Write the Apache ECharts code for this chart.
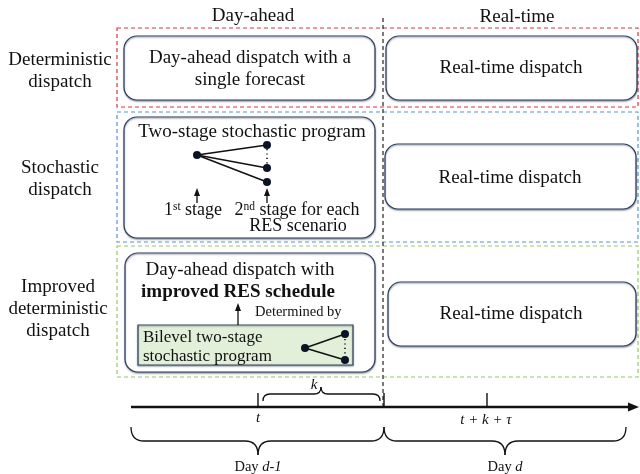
<!DOCTYPE html>
<html>
<head>
<meta charset="utf-8">
<script src="https://cdn.jsdelivr.net/npm/echarts@6/dist/echarts.min.js"></script>
<style>html,body{margin:0;padding:0;background:#fff}#c{width:640px;height:474px}</style>
</head>
<body>
<div id="c"></div>
<script>
// ---- content (texts of the diagram) ----
const phaseLabels = ['Day-ahead', 'Real-time'];
const rowLabels = [['Deterministic', 'dispatch'], ['Stochastic', 'dispatch'], ['Improved', 'deterministic', 'dispatch']];
const dayAheadTexts1 = ['Day-ahead dispatch with a', 'single forecast'];
const dayAheadTexts2 = ['Two-stage stochastic program'];
const stageLabels = ['1{sup|st} stage', '2{sup|nd} stage for each', 'RES scenario'];
const dayAheadTexts3 = ['Day-ahead dispatch with', 'improved RES schedule', 'Determined by'];
const bilevelTexts = ['Bilevel two-stage', 'stochastic program'];
const realTimeText = 'Real-time dispatch';
const timeTicks = ['t', 'k', 't + k + τ'];
const dayLabels = ['d-1', 'd'];

const FONT = 'Liberation Serif';
const NAVY = '#2c3b5c';
const els = [];

function txt(x, y, text, size, opts) {
  opts = opts || {};
  els.push({
    type: 'text', x: x, y: y, z: 10,
    style: Object.assign({
      text: text, fontFamily: FONT, fontSize: size, fill: '#111',
      align: opts.align || 'center', verticalAlign: 'middle',
      fontWeight: opts.bold ? 'bold' : 'normal', fontStyle: opts.italic ? 'italic' : 'normal'
    }, opts.rich ? { rich: opts.rich } : {})
  });
}
function dashRect(x, y, w, h, color) {
  els.push({ type: 'rect', shape: { x: x, y: y, width: w, height: h }, z: 1,
    style: { fill: 'none', stroke: color, lineWidth: 1.2, lineDash: [4, 3] } });
}
function roundBox(x, y, w, h) {
  els.push({ type: 'rect', shape: { x: x, y: y, width: w, height: h, r: 13 }, z: 2,
    style: { fill: '#fff', stroke: NAVY, lineWidth: 1.2, shadowBlur: 1.5, shadowOffsetY: 1.2, shadowOffsetX: 0.3, shadowColor: 'rgba(60,70,90,0.45)' } });
}
function line(x1, y1, x2, y2, w, dash, color) {
  els.push({ type: 'line', shape: { x1: x1, y1: y1, x2: x2, y2: y2 }, z: 5,
    style: { stroke: color || '#111', lineWidth: w || 1.2, lineDash: dash || null } });
}
function quad(x1, y1, cx, cy, x2, y2) {
  els.push({ type: 'bezierCurve', shape: { x1: x1, y1: y1, cpx1: cx, cpy1: cy, x2: x2, y2: y2 }, z: 5,
    style: { fill: 'none', stroke: '#111', lineWidth: 1.3 } });
}
// horizontal curly brace from xa to xb, ends at yEnd, bar at yBar, tip at (xt, yTip)
function brace(xa, xb, xt, yEnd, yBar, yTip) {
  const r = 13;
  quad(xa, yEnd, xa, yBar, xa + r, yBar);
  line(xa + r, yBar, xt - r, yBar, 1.3);
  quad(xt - r, yBar, xt, yBar, xt, yTip);
  quad(xt, yTip, xt, yBar, xt + r, yBar);
  line(xt + r, yBar, xb - r, yBar, 1.3);
  quad(xb - r, yBar, xb, yBar, xb, yEnd);
}
function node(cx, cy) {
  els.push({ type: 'circle', shape: { cx: cx, cy: cy, r: 4 }, z: 6, style: { fill: '#0b1326' } });
}
function upArrow(x, yTop, yBottom) {
  line(x, yTop + 5, x, yBottom, 1.3);
  els.push({ type: 'polygon', shape: { points: [[x, yTop], [x - 3, yTop + 8], [x + 3, yTop + 8]] }, z: 6, style: { fill: '#111' } });
}
function tree(root, leaves, dotFrom, dotTo) {
  leaves.forEach(function (l) { line(root[0], root[1], l[0], l[1], 1.4); });
  line(leaves[0][0], dotFrom, leaves[0][0], dotTo, 1.6, [1.2, 3.2]);
  node(root[0], root[1]);
  leaves.forEach(function (l) { node(l[0], l[1]); });
}

// headers
txt(253, 16, phaseLabels[0], 19);
txt(517, 17, phaseLabels[1], 19);

// dashed group frames
dashRect(117, 28, 521, 79, '#d9363e');
dashRect(117, 112, 521, 130, '#5b8fdc');
dashRect(117, 246, 521, 131, '#95c766');

// vertical dashed divider
line(383, 18, 383, 407, 1.2, [4, 3], '#222');

// row labels
const LS = 19;
txt(60, 60, rowLabels[0][0], LS); txt(60, 82, rowLabels[0][1], LS);
txt(60, 168, rowLabels[1][0], LS); txt(60, 190, rowLabels[1][1], LS);
txt(58, 287, rowLabels[2][0], LS); txt(58, 309, rowLabels[2][1], LS); txt(58, 331, rowLabels[2][2], LS);

// row 1
const BS = 19;
roundBox(124, 36, 251, 64);
txt(250, 58, dayAheadTexts1[0], BS); txt(250, 80, dayAheadTexts1[1], BS);
roundBox(386, 36, 251, 64);
txt(511, 68, realTimeText, BS);

// row 2
roundBox(124, 117, 251, 121);
txt(252, 132, dayAheadTexts2[0], BS);
tree([197, 155], [[267, 145], [267, 168], [267, 182]], 149, 165);
upArrow(197, 188, 203);
upArrow(267, 188, 203);
const supRich = { sup: { fontSize: 11.5, fontFamily: FONT, verticalAlign: 'top', padding: [0, 0, 6, 0] } };
txt(193, 210, stageLabels[0], 18, { rich: supRich });
txt(297, 210, stageLabels[1], 18, { rich: supRich });
txt(298, 226, stageLabels[2], 18);
roundBox(385, 144, 251, 65);
txt(510, 178, realTimeText, BS);

// row 3
roundBox(125, 253, 250, 119);
txt(240, 270, dayAheadTexts3[0], BS);
txt(238, 292, dayAheadTexts3[1], BS, { bold: true });
els.push({ type: 'rect', shape: { x: 138, y: 325, width: 215, height: 40 }, z: 4,
  style: { fill: '#e2efd9', stroke: '#34465e', lineWidth: 1.2, shadowBlur: 1.5, shadowOffsetY: 1, shadowColor: 'rgba(60,70,90,0.5)' } });
upArrow(238, 303, 325);
txt(255, 312, dayAheadTexts3[2], 14.5, { align: 'left' });
txt(143, 338, bilevelTexts[0], 17, { align: 'left' });
txt(143, 357, bilevelTexts[1], 17, { align: 'left' });
tree([305, 348], [[345, 334], [345, 360]], 339, 356);
roundBox(388, 282, 248, 64);
txt(511, 314, realTimeText, BS);

// timeline
line(131, 407, 630, 407, 2.6);
els.push({ type: 'polygon', shape: { points: [[639, 407], [628, 402.5], [628, 411.5]] }, z: 6, style: { fill: '#111' } });
line(258, 393, 258, 407, 1.4);
line(384, 393, 384, 407, 1.4);
line(487, 393, 487, 407, 1.4);
txt(258, 418, timeTicks[0], 15, { italic: true });
txt(314, 385, timeTicks[1], 15, { italic: true });
txt(486, 420, timeTicks[2], 15, { italic: true });
// k brace (tip up)
(function () {
  const xa = 263, xb = 380, xt = 321, yEnd = 401, yBar = 394, yTip = 387, r = 7;
  quad(xa, yEnd, xa, yBar, xa + r, yBar);
  line(xa + r, yBar, xt - r, yBar, 1.3);
  quad(xt - r, yBar, xt, yBar, xt, yTip);
  quad(xt, yTip, xt, yBar, xt + r, yBar);
  line(xt + r, yBar, xb - r, yBar, 1.3);
  quad(xb - r, yBar, xb, yBar, xb, yEnd);
})();
brace(131, 384, 258, 427, 441, 455);
brace(384, 626, 505, 427, 441, 455);
const dayRich = { it: { fontStyle: 'italic', fontFamily: FONT, fontSize: 14.5 } };
txt(258, 467, 'Day {it|' + dayLabels[0] + '}', 14.5, { rich: dayRich });
txt(505, 467, 'Day {it|' + dayLabels[1] + '}', 14.5, { rich: dayRich });

const chart = echarts.init(document.getElementById('c'), null, { renderer: 'canvas' });
chart.setOption({ backgroundColor: '#fff', animation: false, graphic: { elements: els } });
</script>
</body>
</html>
